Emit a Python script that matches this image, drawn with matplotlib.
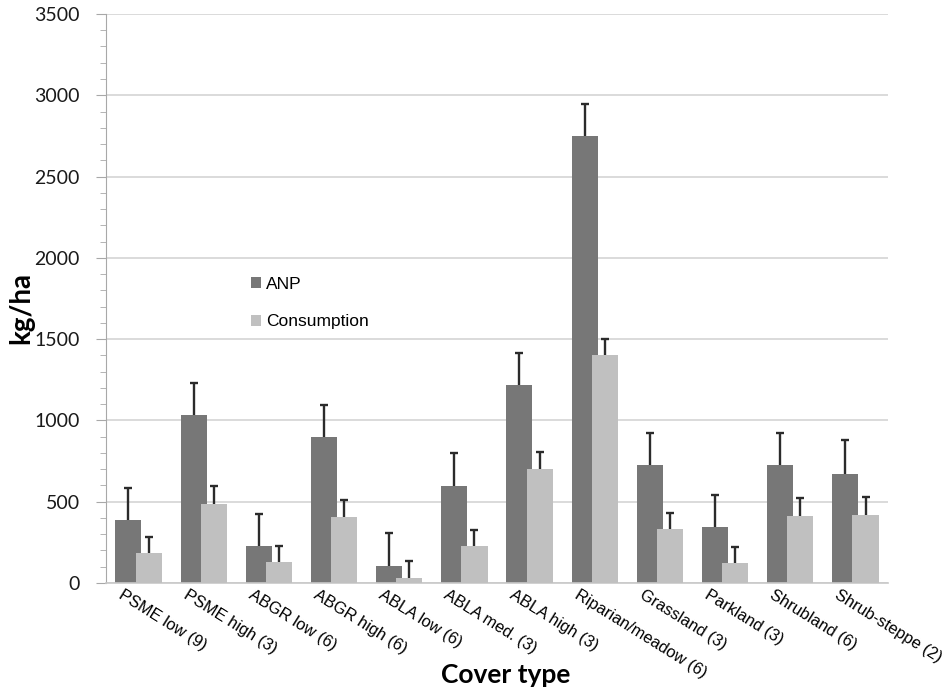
import matplotlib
matplotlib.use("Agg")
import matplotlib.pyplot as plt
import matplotlib.transforms as mtransforms
import numpy as np

# data (kg/ha)
cover = ["PSME low (9)", "PSME high (3)", "ABGR low (6)", "ABGR high (6)",
         "ABLA low (6)", "ABLA med. (3)", "ABLA high (3)", "Riparian/meadow (6)",
         "Grassland (3)", "Parkland (3)", "Shrubland (6)", "Shrub-steppe (2)"]
anp = [387, 1033, 229, 896, 107, 598, 1218, 2752, 726, 346, 726, 670]
anp_err = [195, 197, 195, 199, 200, 200, 196, 197, 197, 193, 197, 208]
cons = [184, 486, 129, 408, 31, 229, 699, 1402, 332, 121, 414, 420]
cons_err = [100, 110, 100, 104, 104, 100, 105, 100, 100, 100, 107, 109]

fig = plt.figure(figsize=(9.46, 6.92), dpi=100)
ax = fig.add_axes([0.112, 0.1575, 0.8267, 0.8223])

x = np.arange(len(cover))
w = 0.4
off = 0.155

ax.bar(x - off, anp, w, color="#777777", label="ANP", zorder=2)
ax.bar(x + off, cons, w, color="#c0c0c0", label="Consumption", zorder=3)

# upper-only error bars, no cap at the bar top
for xs, ys, es in [(x - off, anp, anp_err), (x + off, cons, cons_err)]:
    eb = ax.errorbar(xs, ys, yerr=[np.zeros(len(ys)), es], fmt="none",
                     ecolor="#2b2b2b", elinewidth=1.7, capsize=2.8,
                     capthick=1.7, zorder=4)
    eb.lines[1][0].set_visible(False)

ax.set_xlim(-0.5, len(cover) - 0.5)
ax.set_ylim(0, 3500)
ax.set_yticks(np.arange(0, 3501, 500))
ax.set_yticks(np.arange(0, 3501, 100), minor=True)
ax.yaxis.grid(True, color="#d4d4d4", linewidth=1.2, zorder=0)
ax.set_axisbelow(True)

for s in ["top", "right"]:
    ax.spines[s].set_visible(False)
ax.spines["left"].set_color("#a8a8a8")
ax.spines["bottom"].set_color("#c8c8c8")
ax.spines["bottom"].set_linewidth(1.2)

ax.tick_params(axis="y", which="major", length=7, color="#a8a8a8",
               labelsize=14, pad=12, labelcolor="#1a1a1a")
ax.tick_params(axis="y", which="minor", length=4, color="#a8a8a8")
for lab in ax.get_yticklabels():
    lab.set_fontfamily("Lato")

ax.set_xticks(x)
ax.set_xticklabels(cover, rotation=-32, ha="left", va="top",
                   rotation_mode="anchor", fontsize=11.8,
                   fontfamily="Liberation Sans")
ax.tick_params(axis="x", length=0, pad=3)
shift = mtransforms.ScaledTranslation(-15 / 100, 0, fig.dpi_scale_trans)
for lab in ax.get_xticklabels():
    lab.set_transform(lab.get_transform() + shift)

fig.text(0.022, 0.555, "kg/ha", fontsize=20, fontweight="bold",
         fontfamily="Lato", rotation=90, ha="center", va="center")
fig.text(0.535, 0.024, "Cover type", fontsize=19, fontweight="bold",
         fontfamily="Lato", ha="center", va="center")

leg = ax.legend(loc="upper left", bbox_to_anchor=(0.165, 0.566), frameon=False,
                handlelength=0.6, handleheight=0.6, labelspacing=1.3,
                handletextpad=0.3, prop={"family": "Liberation Sans", "size": 12.5})

fig.savefig("out.png", dpi=100)
